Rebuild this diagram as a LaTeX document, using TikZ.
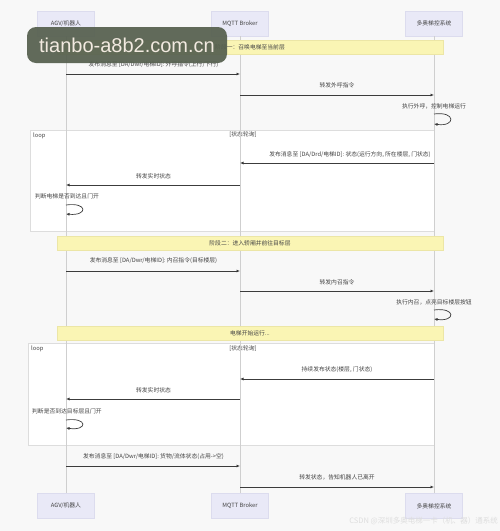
\documentclass[tikz,border=0pt]{standalone}
\usepackage{fontspec}
\setmainfont{Noto Sans CJK SC}
\newfontfamily\wmfont{Liberation Sans}
\usetikzlibrary{arrows.meta}
\definecolor{bgc}{HTML}{F8F8F8}
\definecolor{actorfill}{HTML}{E9E9F7}
\definecolor{actordraw}{HTML}{DCDCEE}
\definecolor{notefill}{HTML}{FAF5B4}
\definecolor{notedraw}{HTML}{ECE6A6}
\definecolor{lifec}{HTML}{CFCFCF}
\definecolor{framec}{HTML}{DDDDDD}
\definecolor{msgc}{HTML}{3C3C3C}
\definecolor{txtc}{HTML}{444444}
\definecolor{wmbox}{HTML}{56604F}
\definecolor{wmtext}{HTML}{F2EAE0}
\begin{document}
\begin{tikzpicture}[x=1pt,y=-1pt,
  every node/.style={font=\fontsize{5.8}{7}\selectfont, text=txtc, inner sep=0pt},
  actor/.style={draw=actordraw, fill=actorfill, line width=0.4pt, minimum width=57, minimum height=25},
  note/.style={draw=notedraw, fill=notefill, line width=0.5pt, minimum width=386, minimum height=14},
  life/.style={draw=lifec, line width=0.8pt},
  loopframe/.style={draw=framec, fill=white, line width=0.6pt, anchor=north west},
  msg/.style={draw=msgc, line width=0.7pt, -{Latex[length=3.5pt,width=3pt]}},
  lbl/.style={text=txtc}]
\useasboundingbox (0,0) rectangle (500,531);
\fill[bgc] (0,0) rectangle (500,531);

% loop frames
\node[loopframe, minimum width=404, minimum height=101] (f1) at (30,130) {};
\node[loopframe, minimum width=406, minimum height=102] (f2) at (28,343) {};
\node[anchor=north west] (f1l) at ([shift={(3,3)}]f1.north west) {loop};
\node (f1c) at (243,135) {[状态轮询]};
\node[anchor=north west] (f2l) at ([shift={(3,3)}]f2.north west) {loop};
\node (f2c) at (243,349) {[状态轮询]};

% actors
\node[actor] (a1) at (66,23.5) {AGV/机器人};
\node[actor] (b1) at (240,23.5) {MQTT Broker};
\node[actor] (c1) at (434,23.5) {多奥梯控系统};
\node[actor] (a2) at (66,506) {AGV/机器人};
\node[actor] (b2) at (240,506) {MQTT Broker};
\node[actor] (c2) at (434,506) {多奥梯控系统};

% lifelines
\draw[life] (a1.south) -- (a2.north);
\draw[life] (b1.south) -- (b2.north);
\draw[life] (c1.south) -- (c2.north);

% notes
\node[note] (n1) at (250,47) {阶段一：召唤电梯至当前层};
\node[note] (n2) at (250,243) {阶段二：进入轿厢并前往目标层};
\node[note] (n3) at (250,333.5) {电梯开始运行...};

% phase 1
\node[lbl] (t1) at (153.5,65) {发布消息至 [DA/Dwr/电梯ID]: 外呼指令(上行/下行)};
\draw[msg] (a1 |- 0,74) -- (b1 |- 0,74);
\node[lbl] (t2) at (337,85) {转发外呼指令};
\draw[msg] (b1 |- 0,95) -- (c1 |- 0,95);
\node[lbl] (t3) at (434,106) {执行外呼，控制电梯运行};
\draw[msg] (c1 |- 0,114) .. controls (456,111) and (456,127) .. (c1 |- 0,124);

% loop 1
\node[lbl] (t4) at (350,155) {发布消息至 [DA/Drd/电梯ID]: 状态(运行方向, 所在楼层, 门状态)};
\draw[msg] (c1 |- 0,163) -- (b1 |- 0,163);
\node[lbl] (t5) at (153.5,176) {转发实时状态};
\draw[msg] (b1 |- 0,185) -- (a1 |- 0,185);
\node[lbl] (t6) at (67,196) {判断电梯是否到达且门开};
\draw[msg] (a1 |- 0,205) .. controls (88,202) and (88,216) .. (a1 |- 0,214);

% phase 2
\node[lbl] (t7) at (153.5,261) {发布消息至 [DA/Dwr/电梯ID]: 内召指令(目标楼层)};
\draw[msg] (a1 |- 0,271) -- (b1 |- 0,271);
\node[lbl] (t8) at (337,282) {转发内召指令};
\draw[msg] (b1 |- 0,291) -- (c1 |- 0,291);
\node[lbl] (t9) at (434,302) {执行内召，点亮目标楼层按钮};
\draw[msg] (c1 |- 0,310) .. controls (456,307) and (456,322) .. (c1 |- 0,319);

% loop 2
\node[lbl] (t10) at (337,370) {持续发布状态(楼层, 门状态)};
\draw[msg] (c1 |- 0,379) -- (b1 |- 0,379);
\node[lbl] (t11) at (153.5,390) {转发实时状态};
\draw[msg] (b1 |- 0,399) -- (a1 |- 0,399);
\node[lbl] (t12) at (67,411) {判断是否到达目标层且门开};
\draw[msg] (a1 |- 0,420) .. controls (88,417) and (88,431) .. (a1 |- 0,428);

% final
\node[lbl] (t13) at (153.5,457) {发布消息至 [DA/Dwr/电梯ID]: 货物/流体状态(占用->空)};
\draw[msg] (a1 |- 0,466) -- (b1 |- 0,466);
\node[lbl] (t14) at (337,477) {转发状态，告知机器人已离开};
\draw[msg] (b1 |- 0,487) -- (c1 |- 0,487);

% watermarks
\node[fill=wmbox, fill opacity=0.93, text opacity=1, rounded corners=9pt, minimum width=200, minimum height=36, text=wmtext, font=\wmfont\fontsize{20}{22}\selectfont] (wm) at (127,45) {tianbo-a8b2.com.cn};
\node[anchor=east, text=black!13, font=\fontsize{7.5}{9}\selectfont] (csdn) at (498,521) {CSDN @深圳多奥电梯一卡（机、器）通系统};
\end{tikzpicture}
\end{document}
